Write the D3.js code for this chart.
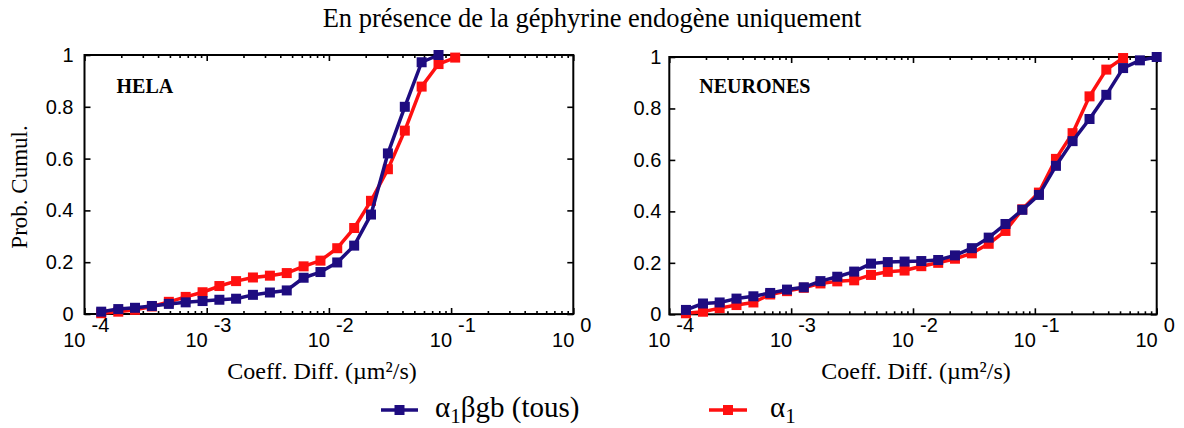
<!DOCTYPE html>
<html><head><meta charset="utf-8">
<script src="https://cdn.jsdelivr.net/npm/d3@7"></script>
<style>
body{margin:0;background:#fff;}
svg{display:block;}
.tick line{stroke:#000;stroke-width:1.6;}
</style></head>
<body>
<svg id="c" width="1184" height="428"></svg>
<script>
// ---- data ----
const diffCoeff = [0.000137, 0.000189, 0.000259, 0.000356, 0.000490, 0.000673, 0.000925, 0.00127, 0.00174, 0.00239,
  0.00329, 0.00452, 0.00621, 0.00853, 0.0117, 0.0161, 0.0221, 0.0304, 0.0418, 0.0574,
  0.0789, 0.108, 0.149, 0.204, 0.281, 0.386, 0.530, 0.728, 1.0];
const helaA1BGB = [0.009, 0.019, 0.024, 0.031, 0.039, 0.045, 0.050, 0.055, 0.059, 0.074,
  0.083, 0.091, 0.140, 0.162, 0.199, 0.264, 0.384, 0.620, 0.800, 0.972, 1.0];
const helaA1 = [0.003, 0.009, 0.016, 0.029, 0.047, 0.066, 0.084, 0.108, 0.127, 0.141,
  0.148, 0.158, 0.184, 0.206, 0.254, 0.332, 0.437, 0.559, 0.708, 0.878, 0.965, 0.99];
const neurA1BGB = [0.017, 0.042, 0.046, 0.061, 0.070, 0.083, 0.096, 0.105, 0.129, 0.146,
  0.166, 0.197, 0.203, 0.205, 0.207, 0.211, 0.229, 0.257, 0.298, 0.351,
  0.406, 0.464, 0.577, 0.673, 0.759, 0.853, 0.957, 0.987, 1.0];
const neurA1 = [0.004, 0.010, 0.024, 0.036, 0.046, 0.077, 0.090, 0.103, 0.120, 0.128,
  0.132, 0.153, 0.165, 0.170, 0.187, 0.200, 0.216, 0.237, 0.274, 0.324,
  0.408, 0.473, 0.604, 0.704, 0.847, 0.951, 0.996];
const xDecades = [-4, -3, -2, -1, 0];
const yTicks = [0, 0.2, 0.4, 0.6, 0.8, 1];
const yTickLabels = ["0", "0.2", "0.4", "0.6", "0.8", "1"];
const panelNames = ["HELA", "NEURONES"];
const seriesNames = ["α1βgb (tous)", "α1"];
const titleText = "En présence de la géphyrine endogène uniquement";
const xLabel = "Coeff. Diff. (µm²/s)";
const yLabel = "Prob. Cumul.";

const BLUE = "#1e0c80", RED = "#ff1010";
const SANS = "'Liberation Sans', Arial, Helvetica, sans-serif";
const SERIF = "'Liberation Serif', 'Times New Roman', 'DejaVu Serif', serif";

const svg = d3.select("#c");

svg.append("text").attr("x", 592).attr("y", 27).attr("text-anchor", "middle")
  .attr("font-family", SERIF).attr("font-size", 26.5).text(titleText);

const panels = [
  {name: panelNames[0], left: 84.5, right: 573.3, top: 55, bottom: 314, pad: 11, xlab: 322,
   series: [{v: helaA1, c: RED}, {v: helaA1BGB, c: BLUE}]},
  {name: panelNames[1], left: 669.3, right: 1156.7, top: 57, bottom: 314.3, pad: 8, xlab: 916,
   series: [{v: neurA1, c: RED}, {v: neurA1BGB, c: BLUE}]}
];

panels.forEach((p, pi) => {
  const x = d3.scaleLog().domain([1e-4, 1]).range([p.left, p.right]);
  const y = d3.scaleLinear().domain([0, 1]).range([p.bottom, p.top]);
  const g = svg.append("g");
  const majors = xDecades.map(d => Math.pow(10, d));
  const minors = [];
  xDecades.slice(0, -1).forEach(d => { for (let k = 2; k <= 9; k++) minors.push(k * Math.pow(10, d)); });

  const addAxis = (axis, tr) => {
    const a = g.append("g").attr("transform", tr).call(axis);
    a.select(".domain").remove();
    a.selectAll("text").remove();
    return a;
  };
  addAxis(d3.axisBottom(x).tickValues(majors).tickSize(-6), `translate(0,${p.bottom})`);
  addAxis(d3.axisBottom(x).tickValues(minors).tickSize(-3), `translate(0,${p.bottom})`);
  addAxis(d3.axisTop(x).tickValues(majors).tickSize(-6), `translate(0,${p.top})`);
  addAxis(d3.axisTop(x).tickValues(minors).tickSize(-3), `translate(0,${p.top})`);
  addAxis(d3.axisRight(y).tickValues(yTicks).tickSize(-6), `translate(${p.right},0)`);
  const ya = g.append("g").attr("transform", `translate(${p.left},0)`)
    .call(d3.axisLeft(y).tickValues(yTicks).tickSize(-6).tickPadding(p.pad)
      .tickFormat((d, i) => yTickLabels[i]));
  ya.select(".domain").remove();
  ya.selectAll("text").attr("font-family", SANS).attr("font-size", 20).attr("fill", "#000");

  g.append("rect").attr("x", p.left).attr("y", p.top)
    .attr("width", p.right - p.left).attr("height", p.bottom - p.top)
    .attr("fill", "none").attr("stroke", "#000").attr("stroke-width", 2);

  xDecades.forEach(d => {
    const xp = x(Math.pow(10, d));
    g.append("text").attr("x", xp + 1).attr("y", 347).attr("text-anchor", "end")
      .attr("font-family", SANS).attr("font-size", 20).text("10");
    g.append("text").attr("x", xp + 7).attr("y", 332).attr("text-anchor", "start")
      .attr("font-family", SANS).attr("font-size", 20).text(String(d));
  });

  g.append("text").attr("x", p.xlab).attr("y", 379).attr("text-anchor", "middle")
    .attr("font-family", SERIF).attr("font-size", 24).text(xLabel);

  g.append("text").attr("x", p.left + (pi === 0 ? 32 : 30)).attr("y", 93)
    .attr("font-family", SERIF).attr("font-weight", "bold").attr("font-size", 20).text(p.name);

  const line = d3.line().x(d => x(d[0])).y(d => y(d[1]));
  p.series.forEach(s => {
    const pts = s.v.map((v, i) => [diffCoeff[i], v]);
    g.append("path").datum(pts).attr("d", line).attr("fill", "none")
      .attr("stroke", s.c).attr("stroke-width", 3.5).attr("stroke-linejoin", "round");
    g.selectAll(null).data(pts).enter().append("rect")
      .attr("x", d => x(d[0]) - 5).attr("y", d => y(d[1]) - 5)
      .attr("width", 10).attr("height", 10).attr("fill", s.c);
  });
});

svg.append("text").attr("transform", "translate(27,187) rotate(-90)").attr("text-anchor", "middle")
  .attr("font-family", SERIF).attr("font-size", 23).text(yLabel);

const legend = [
  {c: BLUE, x0: 381, x1: 418, tx: 435, parts: ["α", "1", "β", "gb (tous)"]},
  {c: RED, x0: 709, x1: 747, tx: 770, parts: ["α", "1", "", ""]}
];
legend.forEach(l => {
  svg.append("line").attr("x1", l.x0).attr("x2", l.x1).attr("y1", 410).attr("y2", 410)
    .attr("stroke", l.c).attr("stroke-width", 3.5);
  svg.append("rect").attr("x", (l.x0 + l.x1) / 2 - 5).attr("y", 405).attr("width", 10).attr("height", 10)
    .attr("fill", l.c);
  const t = svg.append("text").attr("x", l.tx).attr("y", 417)
    .attr("font-family", SERIF).attr("font-size", 29);
  t.append("tspan").attr("font-family", SERIF).text(l.parts[0]);
  t.append("tspan").attr("font-family", SERIF).attr("font-size", 21).attr("dy", 6).text(l.parts[1]);
  if (l.parts[2]) t.append("tspan").attr("font-family", SERIF).attr("dy", -6).text(l.parts[2]);
  if (l.parts[3]) t.append("tspan").attr("font-family", "'Liberation Serif', serif").text(l.parts[3]);
});
</script>
</body></html>
